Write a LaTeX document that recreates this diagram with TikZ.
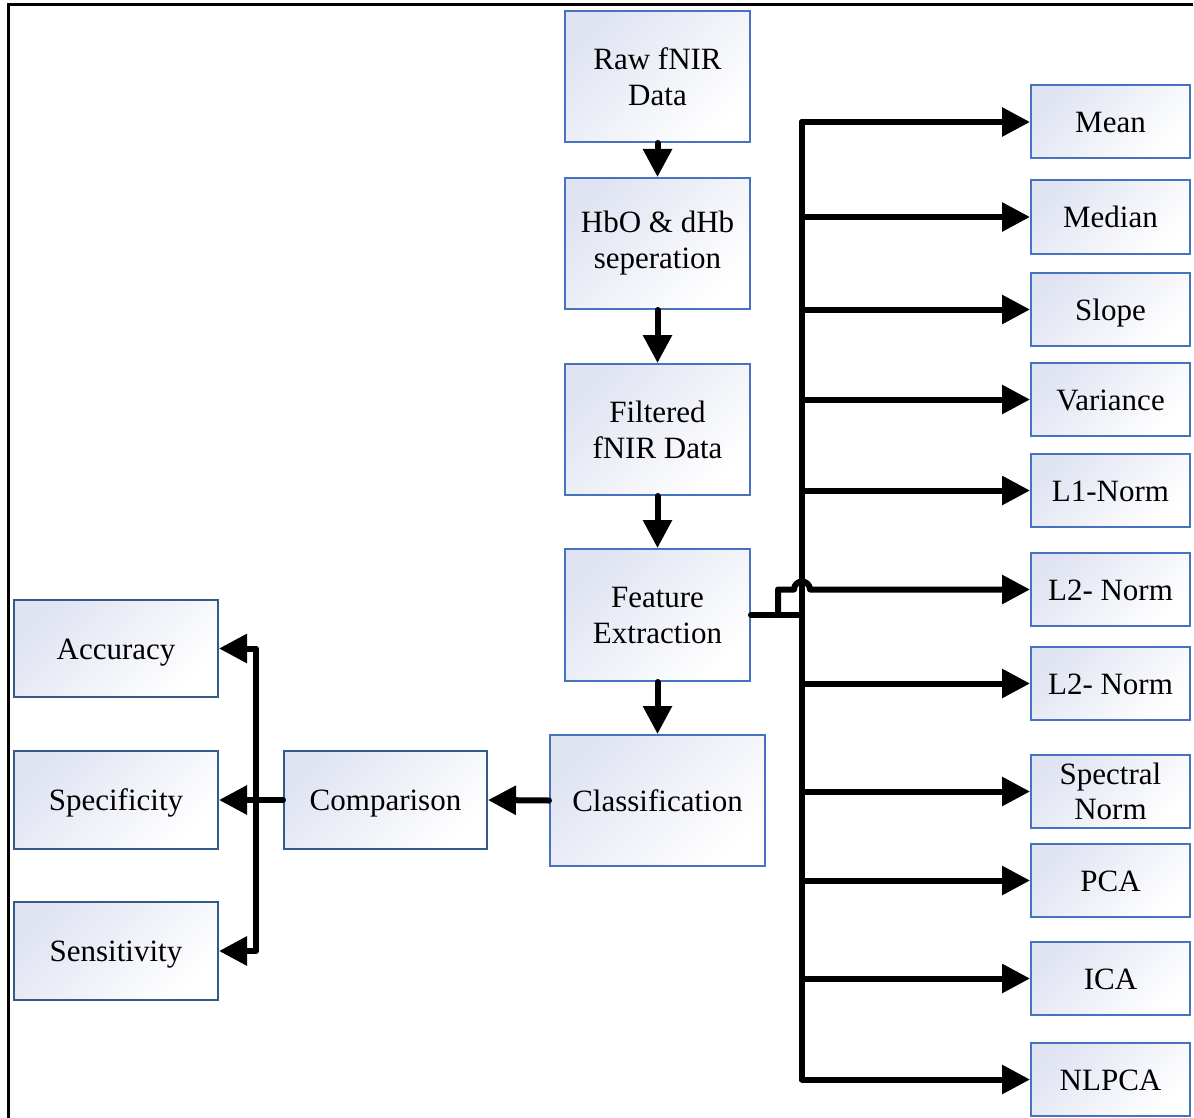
\documentclass[tikz,border=0pt]{standalone}
\usepackage{fontspec}
\setmainfont{Liberation Serif}
\usetikzlibrary{arrows.meta,calc}
\definecolor{boxblue}{RGB}{224,228,242}
\definecolor{bordA}{RGB}{70,114,192}
\definecolor{bordB}{RGB}{52,90,136}
\tikzset{
  box/.style={draw=bordA, line width=2pt, top color=boxblue, bottom color=white, shading angle=45,
    inner sep=0pt, align=center, font=\fontsize{31}{36}\selectfont},
  boxB/.style={box, draw=bordB},
  sl/.style={text height=21pt, text depth=0pt},
  conn/.style={line width=6pt, line cap=round, line join=round},
  arr/.style={conn, -{Triangle[length=28pt,width=28pt]}},
  darr/.style={conn, {Triangle[length=28pt,width=28pt]}-{Triangle[length=28pt,width=28pt]}},
}
\begin{document}
\begin{tikzpicture}[x=1pt,y=-1pt]
\useasboundingbox (0,0) rectangle (1194,1118);
\draw[line width=3pt] (1193,5) -- (8,5) -- (8,1118);
% center column
\node[box, minimum width=185pt, minimum height=131pt] (raw) at (657.5,76.5) {Raw fNIR\\Data};
\node[box, minimum width=185pt, minimum height=131pt] (hbo) at (657.5,243.5) {HbO \& dHb\\seperation};
\node[box, minimum width=185pt, minimum height=131pt] (filt) at (657.5,429.5) {Filtered\\fNIR Data};
\node[box, minimum width=185pt, minimum height=132pt] (feat) at (657.5,615) {Feature\\Extraction};
\node[box, sl, minimum width=215pt, minimum height=131pt] (cls) at (657.5,800.5) {Classification};
\node[boxB, sl, minimum width=203pt, minimum height=98pt] (comp) at (385.5,800) {Comparison};
% left column
\node[boxB, sl, minimum width=204pt, minimum height=97pt] (acc) at (116,648.5) {Accuracy};
\node[boxB, sl, minimum width=204pt, minimum height=98pt] (spec) at (116,800) {Specificity};
\node[boxB, sl, minimum width=204pt, minimum height=98pt] (sens) at (116,951) {Sensitivity};
% right column
\tikzset{rbox/.style={box, minimum width=159pt, minimum height=73pt}}
\node[rbox, sl] (mean) at (1110.5,122) {Mean};
\node[rbox, sl] (median) at (1110.5,217) {Median};
\node[rbox, sl] (slope) at (1110.5,309.5) {Slope};
\node[rbox, sl] (var) at (1110.5,399.5) {Variance};
\node[rbox, sl] (lone) at (1110.5,490.5) {L1-Norm};
\node[rbox, sl] (ltwoa) at (1110.5,589.5) {L2- Norm};
\node[rbox, sl] (ltwob) at (1110.5,683.5) {L2- Norm};
\node[rbox] (spn) at (1110.5,791.5) {Spectral\\[-1pt]Norm};
\node[rbox, sl] (pca) at (1110.5,880.5) {PCA};
\node[rbox, sl] (ica) at (1110.5,978.5) {ICA};
\node[rbox, sl] (nlpca) at (1110.5,1079.5) {NLPCA};
% vertical flow
\draw[arr] (raw.south) -- (hbo.north);
\draw[arr] (hbo.south) -- (filt.north);
\draw[arr] (filt.south) -- (feat.north);
\draw[arr] (feat.south) -- (cls.north);
\draw[arr] (cls.west) -- (comp.east);
% left distribution
\coordinate (lt) at (256,0);
\draw[arr] (comp.west) -- (spec.east);
\draw[darr] (acc.east) -- (acc.east -| lt) -- (sens.east -| lt) -- (sens.east);
% right trunk
\coordinate (tr) at (802,0);
\coordinate (jn) at (778,0);
\draw[arr] (nlpca.west -| tr) -- (mean.west -| tr) -- (mean.west);
\draw[arr] (mean.west -| tr) -- (nlpca.west -| tr) -- (nlpca.west);
\foreach \n in {median,slope,var,lone,ltwob,spn,pca,ica}
  \draw[arr] (\n.west -| tr) -- (\n.west);
\draw[conn] (feat.east) -- (feat.east -| tr);
\draw[arr] (feat.east -| jn) -- (ltwoa.west -| jn) -- ($(ltwoa.west -| tr)+(-8,0)$)
  arc[start angle=180, end angle=360, radius=8] -- (ltwoa.west);
\end{tikzpicture}
\end{document}
